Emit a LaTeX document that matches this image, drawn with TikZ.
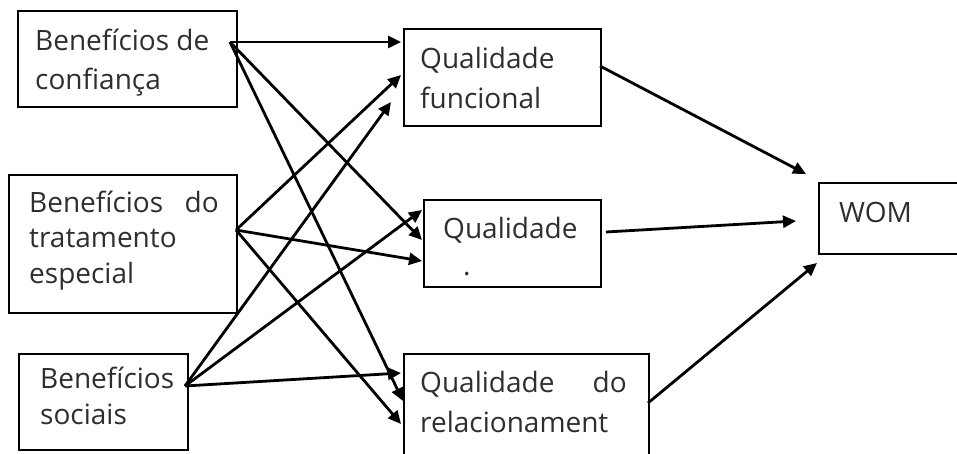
\documentclass[tikz,border=0pt]{standalone}
\usepackage{fontspec}
\setmainfont{Open Sans}
\usetikzlibrary{arrows.meta}
\begin{document}
\begin{tikzpicture}[x=1pt,y=-1pt,
  box/.style={draw, line width=1.5pt, inner sep=0, anchor=north west},
  lbl/.style={anchor=base west, inner sep=0, text=black!82, font=\fontsize{28}{32}\selectfont},
  lble/.style={lbl, anchor=base east},
  arr/.style={line width=2.8pt, -{Triangle[length=13pt,width=12pt]}}]
\useasboundingbox (0,0) rectangle (957,453);
\clip (0,0) rectangle (957,453);
% boxes
\node[box, minimum width=219pt, minimum height=96pt] (b1) at (17,10) {};
\node[box, minimum width=228pt, minimum height=138pt] (b2) at (8,174) {};
\node[box, minimum width=169pt, minimum height=96pt] (b3) at (18,353) {};
\node[box, minimum width=197pt, minimum height=97pt] (q1) at (403,28) {};
\node[box, minimum width=177pt, minimum height=87pt] (q2) at (423,199) {};
\node[box, minimum width=245pt, minimum height=130pt] (q3) at (403,353) {};
\node[box, minimum width=170pt, minimum height=71pt] (wom) at (818,182) {};
% texts
\node[lbl] (b1a) at (35,50) {Benefícios de};
\node[lbl] (b1b) at (35,89) {confiança};
\node[lbl] (b2a) at (29,212) {Benefícios};
\node[lble] (b2d) at (219,212) {do};
\node[lbl] (b2b) at (29,247) {tratamento};
\node[lbl] (b2c) at (29,283) {especial};
\node[lbl] (b3a) at (40,388) {Benefícios};
\node[lbl] (b3b) at (40,424) {sociais};
\node[lbl] (q1a) at (420,68) {Qualidade};
\node[lbl] (q1b) at (420,108) {funcional};
\node[lbl] (q2a) at (443,238) {Qualidade};
\node[lbl] (q2b) at (463,275) {.};
\node[lbl] (q3a) at (420,392) {Qualidade};
\node[lble] (q3d) at (627,392) {do};
\node[lbl] (q3b) at (420,432) {relacionament};
\node[lbl] (woma) at (839,222) {WOM};
% connector end points
\coordinate (s1) at (230,42);
\coordinate (s2) at (236,230);
\coordinate (s3) at (185,386);
\coordinate (t11) at (401,42);
\coordinate (t21) at (401,75);
\coordinate (t31) at (391,102);
\coordinate (t32) at (422,210);
\coordinate (t12) at (422,240);
\coordinate (t22) at (422,261);
\coordinate (t33) at (401,373);
\coordinate (t13) at (403,401);
\coordinate (t23) at (401,424);
\coordinate (u1) at (600,66);
\coordinate (v1) at (806,174);
\coordinate (u2) at (606,232);
\coordinate (v2) at (796,221);
\coordinate (u3) at (648,403);
\coordinate (v3) at (817,263);
% connectors
\draw[arr] (s1) -- (t11);
\draw[arr] (s1) -- (t12);
\draw[arr] (s1) -- (t13);
\draw[arr] (s2) -- (t21);
\draw[arr] (s2) -- (t22);
\draw[arr] (s2) -- (t23);
\draw[arr] (s3) -- (t31);
\draw[arr] (s3) -- (t32);
\draw[arr] (s3) -- (t33);
\draw[arr] (u1) -- (v1);
\draw[arr] (u2) -- (v2);
\draw[arr] (u3) -- (v3);
\end{tikzpicture}
\end{document}
